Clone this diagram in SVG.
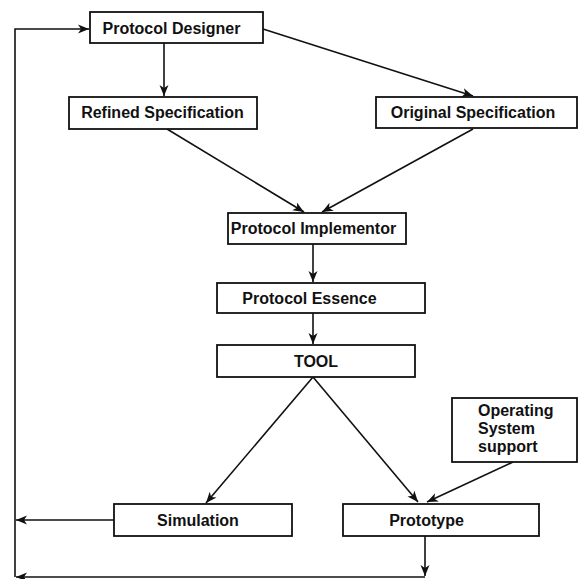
<svg xmlns="http://www.w3.org/2000/svg" width="579" height="579" viewBox="0 0 579 579">
<style>
.box{fill:#fff;stroke:#111;stroke-width:1.8}
.t{font-family:"Liberation Sans",Arial,sans-serif;font-weight:bold;font-size:16px;fill:#111;text-anchor:middle}
.tl{font-family:"Liberation Sans",Arial,sans-serif;font-weight:bold;font-size:16px;fill:#111}
.c{fill:none;stroke:#111;stroke-width:1.6}
</style>
<defs>
<marker id="ah" viewBox="0 0 12 10" refX="11" refY="5" markerWidth="12" markerHeight="10" markerUnits="userSpaceOnUse" orient="auto">
<path d="M0,0.5 L11,5 L0,9.5 L3,5 Z" fill="#111"/>
</marker>
</defs>
<rect width="579" height="579" fill="#fff"/>
<g id="connectors">
<path class="c" d="M15,520 L15,29 L89,29" marker-end="url(#ah)"/>
<path class="c" d="M164,43 L164,96" marker-end="url(#ah)"/>
<path class="c" d="M263,29 L473,96" marker-end="url(#ah)"/>
<path class="c" d="M167,129 L304,212" marker-end="url(#ah)"/>
<path class="c" d="M473,129 L322,212" marker-end="url(#ah)"/>
<path class="c" d="M313,244 L313,282" marker-end="url(#ah)"/>
<path class="c" d="M313,313 L313,344" marker-end="url(#ah)"/>
<path class="c" d="M313,377 L206,503" marker-end="url(#ah)"/>
<path class="c" d="M313,377 L418,502" marker-end="url(#ah)"/>
<path class="c" d="M513,462 L427,502" marker-end="url(#ah)"/>
<path class="c" d="M114,520 L16,520" marker-end="url(#ah)"/>
<path class="c" d="M425,536 L425,576" marker-end="url(#ah)"/>
<path class="c" d="M425,577 L16,577" marker-end="url(#ah)"/>
<path class="c" d="M15,577 L15,520"/>
</g>
<g id="protocol-designer"><rect class="box" x="90" y="12" width="173" height="31"/><text class="t" x="171.5" y="34">Protocol Designer</text></g>
<g id="refined-specification"><rect class="box" x="69" y="97" width="188" height="32"/><text class="t" x="162.5" y="118">Refined Specification</text></g>
<g id="original-specification"><rect class="box" x="376" y="97" width="201" height="31"/><text class="t" x="473" y="118">Original Specification</text></g>
<g id="protocol-implementor"><rect class="box" x="228" y="213" width="178" height="31"/><text class="t" x="313.5" y="234">Protocol Implementor</text></g>
<g id="protocol-essence"><rect class="box" x="217" y="283" width="208" height="30"/><text class="t" x="309.5" y="304">Protocol Essence</text></g>
<g id="tool"><rect class="box" x="217" y="345" width="198" height="32"/><text class="t" x="316" y="367">TOOL</text></g>
<g id="operating-system-support"><rect class="box" x="452" y="398" width="125" height="64"/><text class="tl" x="478" y="416">Operating</text><text class="tl" x="478" y="434">System</text><text class="tl" x="478" y="452">support</text></g>
<g id="simulation"><rect class="box" x="114" y="504" width="178" height="32"/><text class="t" x="198" y="526">Simulation</text></g>
<g id="prototype"><rect class="box" x="343" y="504" width="196" height="32"/><text class="t" x="426.5" y="526">Prototype</text></g>
</svg>
